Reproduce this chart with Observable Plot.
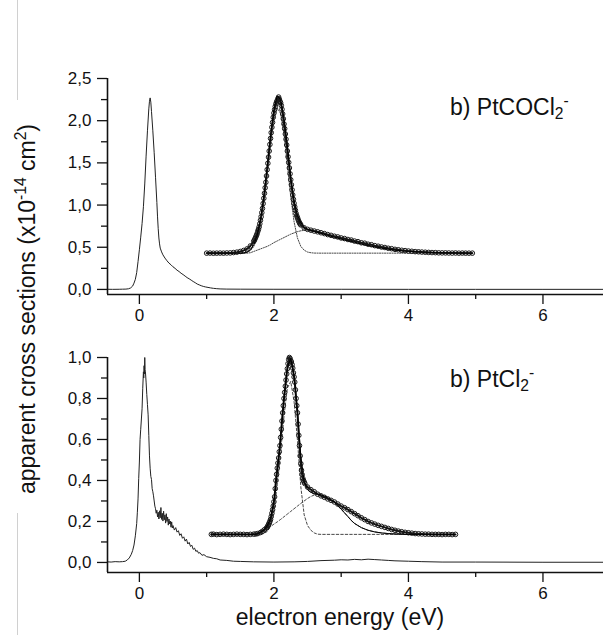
<!DOCTYPE html>
<html><head><meta charset="utf-8">
<script src="https://cdn.jsdelivr.net/npm/d3@7"></script>
<script src="https://cdn.jsdelivr.net/npm/@observablehq/plot@0.6"></script>
<style>
body{margin:0;background:#fff;font-family:"Liberation Sans",Arial,sans-serif;}
#wrap{position:relative;width:603px;height:635px;overflow:hidden;background:#fff;}
#top,#bot{position:absolute;left:0;}
#top{top:0}#bot{top:330px}
.lab{position:absolute;color:#111;white-space:nowrap;font-size:23px;line-height:24px;}
.lab sub,.lab sup{font-size:0.68em;line-height:0;}
.lab sub{vertical-align:-0.25em}
.lab sup{vertical-align:0.6em}
.edge{position:absolute;left:17px;width:1px;background:#d0d0d0;}
</style></head><body>
<div id="wrap">
  <div id="top"></div>
  <div id="bot"></div>
  <div class="edge" style="top:0;height:100px"></div>
  <div class="edge" style="top:513px;height:122px"></div>
  <div class="lab" style="left:-173px;top:297px;width:400px;text-align:center;transform:rotate(-90deg);transform-origin:50% 50%;">apparent cross sections (x10<sup>-14</sup> cm<sup>2</sup>)</div>
  <div class="lab" style="left:190px;top:605px;width:300px;text-align:center;">electron energy (eV)</div>
  <div class="lab" style="left:450px;top:95px;">b) PtCOCl<sub>2</sub><sup>-</sup></div>
  <div class="lab" style="left:450px;top:367px;">b) PtCl<sub>2</sub><sup>-</sup></div>
</div>
<script>
// ---------- axis settings ----------
const xDomain = [-0.474, 6.9];
const xMajor = [0, 2, 4, 6];
const xMinor = [1, 3, 5];
const topYDomain = [-0.06, 2.5];
const topYMajor = [0, 0.5, 1.0, 1.5, 2.0, 2.5];
const topYMinor = [0.25, 0.75, 1.25, 1.75, 2.25];
const botYDomain = [-0.049, 1.0];
const botYMajor = [0, 0.2, 0.4, 0.6, 0.8, 1.0];
const botYMinor = [0.1, 0.3, 0.5, 0.7, 0.9];

// ---------- PtCOCl2- : full spectrum (eV, cross section) ----------
const topSpectrum = [[-0.474,0.002],[-0.40,0.001],[-0.30,0.002],[-0.25,0.003],[-0.20,0.004],[-0.16,0.008],[-0.13,0.018],[-0.10,0.040],[-0.08,0.075],[-0.06,0.120],[-0.04,0.200],[-0.02,0.330],[0.00,0.470],[0.02,0.620],[0.04,0.780],[0.06,0.980],[0.08,1.250],[0.10,1.580],[0.12,1.880],[0.14,2.140],[0.15,2.230],[0.16,2.270],[0.17,2.220],[0.18,2.110],[0.20,1.880],[0.22,1.620],[0.24,1.330],[0.26,1.030],[0.27,0.860],[0.28,0.720],[0.29,0.610],[0.30,0.540],[0.31,0.490],[0.33,0.445],[0.35,0.410],[0.38,0.372],[0.41,0.340],[0.44,0.312],[0.47,0.292],[0.50,0.268],[0.53,0.250],[0.56,0.228],[0.59,0.212],[0.62,0.192],[0.65,0.176],[0.68,0.158],[0.71,0.140],[0.74,0.126],[0.77,0.110],[0.80,0.094],[0.83,0.080],[0.86,0.064],[0.89,0.054],[0.92,0.044],[0.95,0.036],[0.98,0.030],[1.02,0.024],[1.06,0.018],[1.10,0.013],[1.15,0.009],[1.20,0.006],[1.30,0.004],[1.50,0.003],[2.00,0.002],[3.00,0.002],[4.00,0.001],[5.00,0.001],[6.00,0.001],[6.90,0.001]];

// ---------- PtCOCl2- : inset (measured points, fit, two components) ----------
const topInsetData = [[1.00,0.430],[1.05,0.431],[1.10,0.429],[1.15,0.430],[1.20,0.431],[1.25,0.430],[1.30,0.432],[1.35,0.433],[1.40,0.437],[1.45,0.442],[1.50,0.450],[1.55,0.462],[1.60,0.480],[1.65,0.515],[1.70,0.570],[1.71,0.585],[1.72,0.602],[1.73,0.620],[1.74,0.640],[1.75,0.660],[1.76,0.688],[1.77,0.712],[1.78,0.740],[1.79,0.778],[1.80,0.820],[1.81,0.862],[1.82,0.910],[1.83,0.960],[1.84,1.018],[1.85,1.080],[1.86,1.140],[1.87,1.205],[1.88,1.270],[1.89,1.345],[1.90,1.420],[1.91,1.495],[1.92,1.568],[1.93,1.640],[1.94,1.718],[1.95,1.790],[1.96,1.858],[1.97,1.922],[1.98,1.980],[1.99,2.040],[2.00,2.090],[2.01,2.130],[2.02,2.168],[2.03,2.200],[2.04,2.222],[2.05,2.240],[2.06,2.262],[2.07,2.280],[2.08,2.255],[2.09,2.230],[2.10,2.212],[2.11,2.180],[2.12,2.135],[2.13,2.080],[2.14,2.022],[2.15,1.960],[2.16,1.905],[2.17,1.842],[2.18,1.780],[2.19,1.712],[2.20,1.640],[2.21,1.572],[2.22,1.505],[2.23,1.440],[2.24,1.370],[2.25,1.300],[2.26,1.240],[2.27,1.180],[2.28,1.120],[2.29,1.068],[2.30,1.020],[2.31,0.978],[2.32,0.938],[2.33,0.900],[2.34,0.872],[2.35,0.850],[2.36,0.828],[2.37,0.808],[2.38,0.790],[2.39,0.776],[2.40,0.765],[2.45,0.730],[2.50,0.712],[2.55,0.702],[2.60,0.692],[2.65,0.683],[2.70,0.672],[2.75,0.662],[2.80,0.650],[2.85,0.641],[2.90,0.630],[2.95,0.622],[3.00,0.610],[3.05,0.603],[3.10,0.592],[3.15,0.585],[3.20,0.573],[3.25,0.566],[3.30,0.553],[3.35,0.548],[3.40,0.536],[3.45,0.530],[3.50,0.519],[3.55,0.512],[3.60,0.503],[3.65,0.497],[3.70,0.488],[3.75,0.483],[3.80,0.475],[3.85,0.470],[3.90,0.464],[3.95,0.460],[4.00,0.455],[4.05,0.452],[4.10,0.448],[4.15,0.446],[4.20,0.443],[4.25,0.441],[4.30,0.439],[4.35,0.437],[4.40,0.436],[4.45,0.434],[4.50,0.433],[4.55,0.433],[4.60,0.432],[4.65,0.431],[4.70,0.432],[4.75,0.430],[4.80,0.431],[4.85,0.430],[4.90,0.430],[4.95,0.430]];
const topInsetFit = [[1.00,0.430],[1.55,0.430],[1.60,0.441],[1.65,0.466],[1.70,0.528],[1.75,0.639],[1.80,0.824],[1.85,1.097],[1.90,1.444],[1.95,1.820],[2.00,2.134],[2.05,2.295],[2.10,2.251],[2.15,2.032],[2.20,1.713],[2.25,1.330],[2.30,1.050],[2.35,0.880],[2.40,0.790],[2.45,0.740],[2.50,0.712],[2.55,0.700],[2.60,0.687],[2.70,0.665],[2.80,0.640],[2.90,0.618],[3.00,0.597],[3.20,0.558],[3.40,0.520],[3.60,0.490],[3.80,0.465],[4.00,0.452],[4.20,0.443],[4.40,0.437],[4.60,0.433],[4.80,0.431],[4.95,0.430]];
const topInsetNarrow = [[1.00,0.430],[1.55,0.432],[1.60,0.441],[1.65,0.461],[1.70,0.508],[1.75,0.604],[1.80,0.774],[1.85,1.032],[1.90,1.364],[1.95,1.720],[2.00,2.009],[2.05,2.150],[2.10,2.086],[2.15,1.847],[2.20,1.480],[2.25,1.100],[2.30,0.800],[2.35,0.610],[2.40,0.510],[2.45,0.465],[2.50,0.443],[2.55,0.435],[2.60,0.431],[2.70,0.430],[4.95,0.430]];
const topInsetBroad = [[1.00,0.430],[1.60,0.430],[1.65,0.435],[1.70,0.450],[1.75,0.465],[1.80,0.480],[1.85,0.495],[1.90,0.510],[1.95,0.530],[2.00,0.555],[2.05,0.575],[2.10,0.595],[2.15,0.615],[2.20,0.635],[2.25,0.655],[2.30,0.670],[2.35,0.685],[2.40,0.695],[2.45,0.700],[2.50,0.698],[2.60,0.685],[2.70,0.665],[2.80,0.640],[2.90,0.618],[3.00,0.597],[3.20,0.558],[3.40,0.520],[3.60,0.490],[3.80,0.465],[4.00,0.452],[4.20,0.443],[4.40,0.437],[4.60,0.433],[4.80,0.431],[4.95,0.430]];

// ---------- PtCl2- : full spectrum ----------
const botSpectrum = [[-0.474,0.003],[-0.42,0.002],[-0.36,0.004],[-0.30,0.003],[-0.25,0.004],[-0.21,0.006],[-0.18,0.012],[-0.15,0.022],[-0.12,0.040],[-0.10,0.058],[-0.08,0.085],[-0.06,0.130],[-0.04,0.190],[-0.03,0.245],[-0.02,0.310],[-0.01,0.410],[0.00,0.490],[0.01,0.600],[0.02,0.650],[0.03,0.700],[0.04,0.750],[0.05,0.850],[0.06,0.930],[0.065,0.900],[0.07,0.960],[0.075,0.920],[0.08,1.000],[0.085,0.940],[0.09,0.930],[0.10,0.880],[0.11,0.820],[0.12,0.770],[0.13,0.720],[0.14,0.620],[0.15,0.520],[0.16,0.460],[0.17,0.420],[0.18,0.405],[0.19,0.360],[0.20,0.345],[0.21,0.325],[0.22,0.300],[0.23,0.275],[0.24,0.262],[0.25,0.240],[0.26,0.255],[0.27,0.222],[0.28,0.245],[0.29,0.212],[0.30,0.252],[0.31,0.218],[0.32,0.268],[0.33,0.210],[0.34,0.240],[0.35,0.202],[0.36,0.250],[0.37,0.208],[0.38,0.232],[0.39,0.192],[0.40,0.238],[0.41,0.200],[0.42,0.222],[0.43,0.182],[0.44,0.212],[0.45,0.188],[0.46,0.202],[0.47,0.172],[0.48,0.198],[0.49,0.168],[0.50,0.180],[0.52,0.158],[0.54,0.170],[0.56,0.148],[0.58,0.155],[0.60,0.132],[0.62,0.140],[0.64,0.118],[0.66,0.125],[0.68,0.104],[0.70,0.114],[0.72,0.090],[0.74,0.098],[0.76,0.078],[0.78,0.084],[0.80,0.064],[0.82,0.070],[0.84,0.054],[0.86,0.058],[0.88,0.045],[0.90,0.048],[0.93,0.035],[0.96,0.038],[1.00,0.028],[1.05,0.025],[1.10,0.020],[1.15,0.018],[1.20,0.012],[1.30,0.010],[1.40,0.006],[1.50,0.005],[1.70,0.003],[2.00,0.002],[2.30,0.003],[2.50,0.005],[2.70,0.009],[2.90,0.011],[3.00,0.013],[3.10,0.012],[3.20,0.015],[3.30,0.013],[3.40,0.016],[3.50,0.014],[3.60,0.012],[3.70,0.010],[3.80,0.008],[4.00,0.006],[4.20,0.004],[4.50,0.002],[5.00,0.002],[6.00,0.001],[6.90,0.001]];

// ---------- PtCl2- : inset ----------
const botInsetData = [[1.07,0.137],[1.10,0.138],[1.15,0.136],[1.20,0.137],[1.25,0.138],[1.30,0.137],[1.35,0.136],[1.40,0.137],[1.45,0.138],[1.50,0.137],[1.55,0.137],[1.60,0.136],[1.65,0.137],[1.70,0.138],[1.73,0.139],[1.76,0.141],[1.80,0.146],[1.83,0.152],[1.86,0.160],[1.89,0.168],[1.90,0.172],[1.91,0.178],[1.92,0.185],[1.93,0.193],[1.94,0.200],[1.95,0.210],[1.96,0.224],[1.97,0.240],[1.98,0.257],[1.99,0.275],[2.00,0.296],[2.01,0.320],[2.02,0.360],[2.03,0.400],[2.04,0.430],[2.05,0.460],[2.06,0.485],[2.07,0.510],[2.08,0.540],[2.09,0.570],[2.10,0.610],[2.11,0.650],[2.12,0.690],[2.13,0.730],[2.14,0.765],[2.15,0.800],[2.16,0.830],[2.17,0.860],[2.18,0.890],[2.19,0.920],[2.20,0.945],[2.21,0.970],[2.22,0.990],[2.23,1.000],[2.24,0.995],[2.25,0.985],[2.26,0.978],[2.27,0.965],[2.28,0.948],[2.29,0.925],[2.30,0.905],[2.31,0.880],[2.32,0.842],[2.33,0.800],[2.34,0.765],[2.35,0.730],[2.36,0.675],[2.37,0.620],[2.38,0.570],[2.39,0.520],[2.40,0.482],[2.41,0.450],[2.42,0.428],[2.43,0.410],[2.44,0.400],[2.45,0.392],[2.46,0.385],[2.50,0.368],[2.55,0.355],[2.60,0.345],[2.65,0.333],[2.70,0.325],[2.75,0.318],[2.80,0.310],[2.85,0.303],[2.90,0.295],[2.95,0.285],[3.00,0.275],[3.05,0.267],[3.10,0.258],[3.15,0.248],[3.20,0.238],[3.25,0.228],[3.30,0.218],[3.35,0.209],[3.40,0.200],[3.45,0.193],[3.50,0.187],[3.55,0.181],[3.60,0.176],[3.65,0.171],[3.70,0.166],[3.75,0.161],[3.80,0.157],[3.85,0.153],[3.90,0.150],[3.95,0.147],[4.00,0.145],[4.05,0.143],[4.10,0.141],[4.15,0.140],[4.20,0.139],[4.25,0.138],[4.30,0.138],[4.35,0.137],[4.40,0.137],[4.45,0.137],[4.50,0.136],[4.55,0.137],[4.60,0.137],[4.65,0.136],[4.70,0.137]];
const botInsetFit = [[1.07,0.137],[1.70,0.137],[1.75,0.139],[1.80,0.148],[1.85,0.159],[1.90,0.179],[1.95,0.216],[2.00,0.300],[2.05,0.440],[2.10,0.610],[2.15,0.800],[2.20,0.950],[2.25,0.995],[2.30,0.910],[2.35,0.735],[2.40,0.520],[2.45,0.395],[2.50,0.355],[2.55,0.342],[2.60,0.336],[2.65,0.333],[2.70,0.330],[2.75,0.324],[2.80,0.316],[2.85,0.306],[2.90,0.294],[2.95,0.278],[3.00,0.260],[3.05,0.242],[3.10,0.224],[3.15,0.205],[3.20,0.190],[3.30,0.170],[3.40,0.157],[3.50,0.149],[3.60,0.144],[3.70,0.141],[3.80,0.139],[3.90,0.138],[4.00,0.137],[4.70,0.137]];
const botInsetNarrow = [[1.07,0.137],[1.80,0.138],[1.85,0.141],[1.90,0.151],[1.95,0.178],[2.00,0.250],[2.05,0.379],[2.10,0.537],[2.15,0.714],[2.20,0.851],[2.25,0.883],[2.30,0.785],[2.35,0.597],[2.40,0.369],[2.45,0.232],[2.50,0.180],[2.55,0.157],[2.60,0.144],[2.65,0.138],[2.70,0.137],[4.70,0.137]];
const botInsetBroad = [[1.07,0.137],[1.70,0.137],[1.75,0.139],[1.80,0.147],[1.85,0.155],[1.90,0.165],[1.95,0.175],[2.00,0.187],[2.05,0.198],[2.10,0.210],[2.15,0.223],[2.20,0.236],[2.25,0.249],[2.30,0.262],[2.35,0.275],[2.40,0.288],[2.45,0.300],[2.50,0.312],[2.55,0.322],[2.60,0.329],[2.65,0.333],[2.70,0.330],[2.75,0.324],[2.80,0.316],[2.85,0.306],[2.90,0.294],[2.95,0.278],[3.00,0.260],[3.05,0.242],[3.10,0.224],[3.15,0.205],[3.20,0.190],[3.30,0.170],[3.40,0.157],[3.50,0.149],[3.60,0.144],[3.70,0.141],[3.80,0.139],[3.90,0.138],[4.00,0.137],[4.70,0.137]];

const comma = d => d3.format(".1f")(d).replace(".", ",");
const X = d => d[0], Y = d => d[1];
const INK = "#111";

function panel({height, marginTop, marginBottom, yDomain, yMajor, yMinor, spectrum, data, fit, narrow, broad, dash}) {
  return Plot.plot({
    width: 603, height, marginTop, marginBottom, marginLeft: 107, marginRight: 0,
    style: {fontFamily: "'Liberation Sans', Arial, sans-serif", fontSize: "17px", color: INK, background: "white"},
    x: {domain: xDomain, label: null},
    y: {domain: yDomain, label: null},
    marks: [
      Plot.line(spectrum, {x: X, y: Y, stroke: "#222", strokeWidth: 1, clip: true}),
      Plot.line(data, {x: X, y: Y, stroke: "#111", strokeWidth: 2}),
      Plot.line(narrow, {x: X, y: Y, stroke: "#333", strokeWidth: 0.9, strokeDasharray: dash}),
      Plot.line(broad, {x: X, y: Y, stroke: "#333", strokeWidth: 0.9, strokeDasharray: dash}),
      Plot.dot(data, {x: X, y: Y, r: 2.3, stroke: "#1a1a1a", strokeWidth: 1, fill: "none"}),
      Plot.line(fit, {x: X, y: Y, stroke: "#000", strokeWidth: 1}),
      Plot.ruleX([xDomain[0]], {stroke: INK, strokeWidth: 1.6}),
      Plot.ruleY([yDomain[0]], {stroke: INK, strokeWidth: 1.6}),
      Plot.axisY({ticks: yMajor, tickSize: 10, tickPadding: 6, tickFormat: comma, label: null, stroke: INK, strokeWidth: 1.3, fontSize: 17}),
      Plot.axisY({ticks: yMinor, tickSize: 6, tickFormat: () => "", label: null, stroke: INK, strokeWidth: 1.3}),
      Plot.axisX({ticks: xMajor, tickSize: 10, tickPadding: 4, tickFormat: d3.format("d"), label: null, stroke: INK, strokeWidth: 1.3, fontSize: 17}),
      Plot.axisX({ticks: xMinor, tickSize: 5, tickFormat: () => "", label: null, stroke: INK, strokeWidth: 1.3})
    ]
  });
}

document.getElementById("top").append(panel({
  height: 330, marginTop: 78, marginBottom: 36,
  yDomain: topYDomain, yMajor: topYMajor, yMinor: topYMinor,
  spectrum: topSpectrum, data: topInsetData, fit: topInsetFit,
  narrow: topInsetNarrow, broad: topInsetBroad, dash: "1.2,1.3"
}));
document.getElementById("bot").append(panel({
  height: 305, marginTop: 27, marginBottom: 63,
  yDomain: botYDomain, yMajor: botYMajor, yMinor: botYMinor,
  spectrum: botSpectrum, data: botInsetData, fit: botInsetFit,
  narrow: botInsetNarrow, broad: botInsetBroad, dash: "2.5,2"
}));
</script>
</body></html>
